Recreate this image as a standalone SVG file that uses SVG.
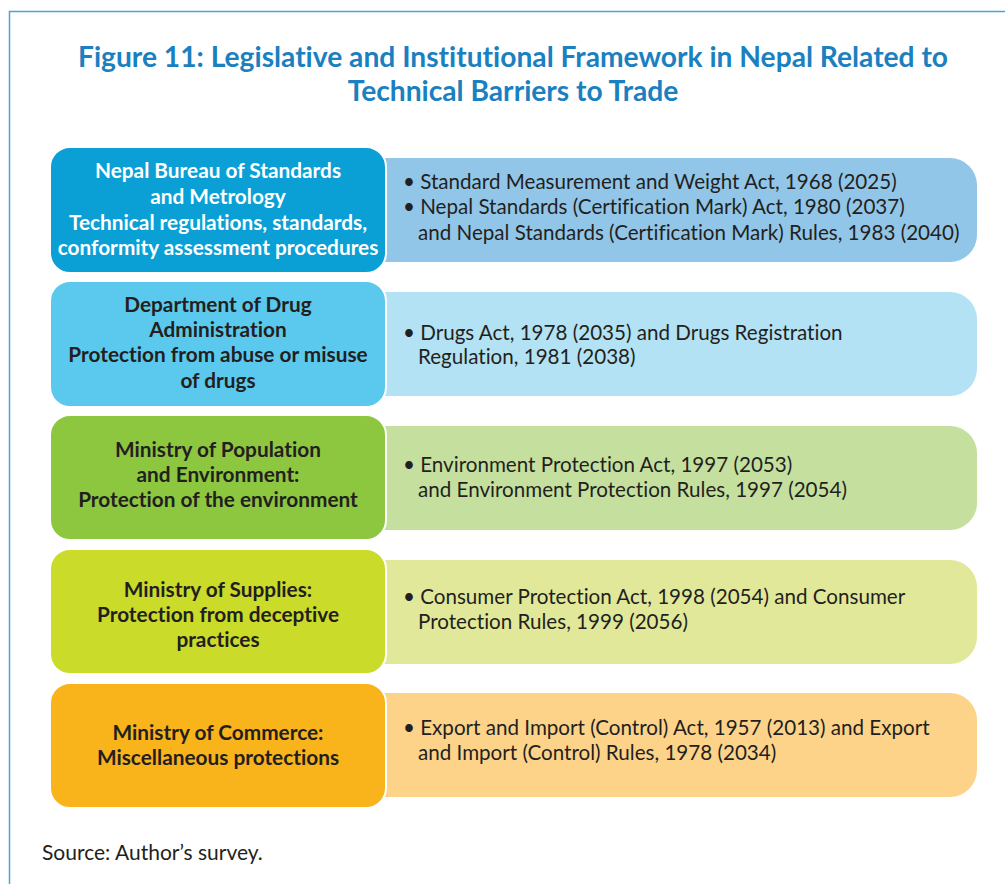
<svg xmlns="http://www.w3.org/2000/svg" width="1005" height="884" viewBox="0 0 1005 884">
<style>
text{font-variant-ligatures:none;font-feature-settings:"liga" 0}
.title{font-family:Lato,"Liberation Sans",sans-serif;font-weight:bold;font-size:28.2px;fill:#1a80c0;text-anchor:middle}
.lt{font-family:Lato,"Liberation Sans",sans-serif;font-weight:bold;font-size:20.8px;fill:#231f20;text-anchor:middle}
.lt.w{fill:#ffffff}
.rt{font-family:Lato,"Liberation Sans",sans-serif;font-size:20.6px;fill:#231f20}
.src{font-family:Lato,"Liberation Sans",sans-serif;font-size:21px;fill:#231f20}
.lb{stroke:#ffffff;stroke-width:2}
</style>
<rect x="0" y="0" width="1005" height="884" fill="#ffffff"/>
<path d="M9.5,884 V11.5 H1005" fill="none" stroke="#4ba6d6" stroke-width="1.5"/>
<text class="title" x="513" y="67">Figure 11: Legislative and Institutional Framework in Nepal Related to</text>
<text class="title" x="513" y="101">Technical Barriers to Trade</text>

<g id="row1">
<path d="M370,158 H950 A27,27 0 0 1 977,185 V235 A27,27 0 0 1 950,262 H370 Z" fill="#92c6e8"/>
<rect class="lb" x="50" y="147" width="336" height="126" rx="20" fill="#0aa0d6"/>
<text class="lt w" x="218" y="178">Nepal Bureau of Standards</text>
<text class="lt w" x="218" y="204">and Metrology</text>
<text class="lt w" x="218" y="230">Technical regulations, standards,</text>
<text class="lt w" x="218" y="255">conformity assessment procedures</text>
<text class="rt" x="403" y="189">• Standard Measurement and Weight Act, 1968 (2025)</text>
<text class="rt" x="403" y="214">• Nepal Standards (Certification Mark) Act, 1980 (2037)</text>
<text class="rt" x="418" y="240">and Nepal Standards (Certification Mark) Rules, 1983 (2040)</text>
</g>

<g id="row2">
<path d="M370,292 H950 A27,27 0 0 1 977,319 V369 A27,27 0 0 1 950,396 H370 Z" fill="#b3e2f4"/>
<rect class="lb" x="50" y="281" width="336" height="126" rx="20" fill="#5bc9ee"/>
<text class="lt" x="218" y="312">Department of Drug</text>
<text class="lt" x="218" y="337">Administration</text>
<text class="lt" x="218" y="362">Protection from abuse or misuse</text>
<text class="lt" x="218" y="388">of drugs</text>
<text class="rt" x="403" y="340">• Drugs Act, 1978 (2035) and Drugs Registration</text>
<text class="rt" x="418" y="364">Regulation, 1981 (2038)</text>
</g>

<g id="row3">
<path d="M370,426 H950 A27,27 0 0 1 977,453 V503 A27,27 0 0 1 950,530 H370 Z" fill="#c5df9e"/>
<rect class="lb" x="50" y="415" width="336" height="125" rx="20" fill="#8dc63f"/>
<text class="lt" x="218" y="457">Ministry of Population</text>
<text class="lt" x="218" y="482">and Environment:</text>
<text class="lt" x="218" y="507">Protection of the environment</text>
<text class="rt" x="403" y="472">• Environment Protection Act, 1997 (2053)</text>
<text class="rt" x="418" y="497">and Environment Protection Rules, 1997 (2054)</text>
</g>

<g id="row4">
<path d="M370,560 H950 A27,27 0 0 1 977,587 V637 A27,27 0 0 1 950,664 H370 Z" fill="#e1e89a"/>
<rect class="lb" x="50" y="549" width="336" height="125" rx="20" fill="#cadb2a"/>
<text class="lt" x="218" y="597">Ministry of Supplies:</text>
<text class="lt" x="218" y="622">Protection from deceptive</text>
<text class="lt" x="218" y="647">practices</text>
<text class="rt" x="403" y="604">• Consumer Protection Act, 1998 (2054) and Consumer</text>
<text class="rt" x="418" y="629">Protection Rules, 1999 (2056)</text>
</g>

<g id="row5">
<path d="M370,693 H950 A27,27 0 0 1 977,720 V770 A27,27 0 0 1 950,797 H370 Z" fill="#fdd38a"/>
<rect class="lb" x="50" y="683" width="336" height="125" rx="20" fill="#f9b31b"/>
<text class="lt" x="218" y="740">Ministry of Commerce:</text>
<text class="lt" x="218" y="765">Miscellaneous protections</text>
<text class="rt" x="403" y="735">• Export and Import (Control) Act, 1957 (2013) and Export</text>
<text class="rt" x="418" y="760">and Import (Control) Rules, 1978 (2034)</text>
</g>

<g id="connectors"></g>
<text class="src" x="42" y="860">Source: Author’s survey.</text>
</svg>
